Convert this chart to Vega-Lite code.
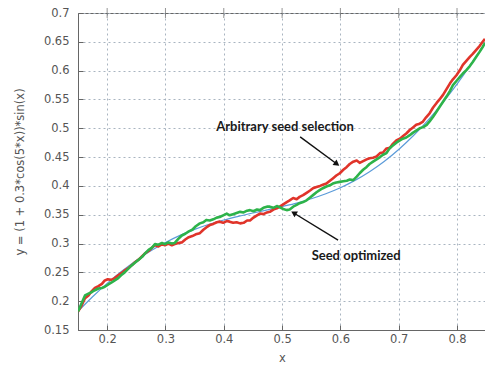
{
  "$schema": "https://vega.github.io/schema/vega-lite/v6.json",
  "width": 408,
  "height": 317,
  "autosize": "none",
  "padding": {"left": 78, "top": 13, "right": 0, "bottom": 42},
  "background": "white",
  "config": {
    "font": "DejaVu Sans",
    "view": {"stroke": "#666666", "strokeWidth": 1}
  },
  "datasets": {
    "curve": [
      {"x": 0.15, "y": 0.1822}, {"x": 0.175, "y": 0.2076}, {"x": 0.2, "y": 0.2309}, {"x": 0.225, "y": 0.2520},
      {"x": 0.25, "y": 0.2708}, {"x": 0.275, "y": 0.2874}, {"x": 0.3, "y": 0.3018}, {"x": 0.325, "y": 0.3141},
      {"x": 0.35, "y": 0.3245}, {"x": 0.375, "y": 0.3334}, {"x": 0.4, "y": 0.3408}, {"x": 0.425, "y": 0.3472},
      {"x": 0.45, "y": 0.3530}, {"x": 0.475, "y": 0.3585}, {"x": 0.5, "y": 0.3642}, {"x": 0.525, "y": 0.3702},
      {"x": 0.55, "y": 0.3778}, {"x": 0.575, "y": 0.3865}, {"x": 0.6, "y": 0.3969}, {"x": 0.625, "y": 0.4096},
      {"x": 0.65, "y": 0.4247}, {"x": 0.675, "y": 0.4424}, {"x": 0.7, "y": 0.4632}, {"x": 0.725, "y": 0.4870},
      {"x": 0.75, "y": 0.5138}, {"x": 0.775, "y": 0.5438}, {"x": 0.8, "y": 0.5767}, {"x": 0.825, "y": 0.6125},
      {"x": 0.85, "y": 0.6508}
    ],
    "noisy": [
      {"s": "arbitrary", "x": 0.150, "y": 0.182}, {"s": "arbitrary", "x": 0.156, "y": 0.192}, {"s": "arbitrary", "x": 0.162, "y": 0.205},
      {"s": "arbitrary", "x": 0.168, "y": 0.210}, {"s": "arbitrary", "x": 0.174, "y": 0.218}, {"s": "arbitrary", "x": 0.179, "y": 0.223},
      {"s": "arbitrary", "x": 0.185, "y": 0.226}, {"s": "arbitrary", "x": 0.191, "y": 0.230}, {"s": "arbitrary", "x": 0.196, "y": 0.236},
      {"s": "arbitrary", "x": 0.201, "y": 0.238}, {"s": "arbitrary", "x": 0.207, "y": 0.237}, {"s": "arbitrary", "x": 0.213, "y": 0.240},
      {"s": "arbitrary", "x": 0.219, "y": 0.245}, {"s": "arbitrary", "x": 0.225, "y": 0.249}, {"s": "arbitrary", "x": 0.231, "y": 0.254},
      {"s": "arbitrary", "x": 0.237, "y": 0.258}, {"s": "arbitrary", "x": 0.243, "y": 0.263}, {"s": "arbitrary", "x": 0.248, "y": 0.268},
      {"s": "arbitrary", "x": 0.254, "y": 0.272}, {"s": "arbitrary", "x": 0.260, "y": 0.278}, {"s": "arbitrary", "x": 0.265, "y": 0.283},
      {"s": "arbitrary", "x": 0.271, "y": 0.287}, {"s": "arbitrary", "x": 0.277, "y": 0.293}, {"s": "arbitrary", "x": 0.282, "y": 0.297},
      {"s": "arbitrary", "x": 0.288, "y": 0.295}, {"s": "arbitrary", "x": 0.294, "y": 0.299}, {"s": "arbitrary", "x": 0.299, "y": 0.297},
      {"s": "arbitrary", "x": 0.305, "y": 0.300}, {"s": "arbitrary", "x": 0.311, "y": 0.297}, {"s": "arbitrary", "x": 0.316, "y": 0.299},
      {"s": "arbitrary", "x": 0.322, "y": 0.301}, {"s": "arbitrary", "x": 0.328, "y": 0.302}, {"s": "arbitrary", "x": 0.334, "y": 0.307},
      {"s": "arbitrary", "x": 0.340, "y": 0.311}, {"s": "arbitrary", "x": 0.346, "y": 0.313}, {"s": "arbitrary", "x": 0.352, "y": 0.316},
      {"s": "arbitrary", "x": 0.359, "y": 0.318}, {"s": "arbitrary", "x": 0.365, "y": 0.324}, {"s": "arbitrary", "x": 0.370, "y": 0.328},
      {"s": "arbitrary", "x": 0.376, "y": 0.332}, {"s": "arbitrary", "x": 0.382, "y": 0.334}, {"s": "arbitrary", "x": 0.388, "y": 0.337},
      {"s": "arbitrary", "x": 0.393, "y": 0.338}, {"s": "arbitrary", "x": 0.399, "y": 0.336}, {"s": "arbitrary", "x": 0.405, "y": 0.339},
      {"s": "arbitrary", "x": 0.410, "y": 0.338}, {"s": "arbitrary", "x": 0.416, "y": 0.336}, {"s": "arbitrary", "x": 0.422, "y": 0.337},
      {"s": "arbitrary", "x": 0.428, "y": 0.335}, {"s": "arbitrary", "x": 0.434, "y": 0.336}, {"s": "arbitrary", "x": 0.440, "y": 0.340},
      {"s": "arbitrary", "x": 0.445, "y": 0.340}, {"s": "arbitrary", "x": 0.451, "y": 0.345}, {"s": "arbitrary", "x": 0.457, "y": 0.349},
      {"s": "arbitrary", "x": 0.462, "y": 0.352}, {"s": "arbitrary", "x": 0.468, "y": 0.351}, {"s": "arbitrary", "x": 0.474, "y": 0.354},
      {"s": "arbitrary", "x": 0.479, "y": 0.355}, {"s": "arbitrary", "x": 0.485, "y": 0.359}, {"s": "arbitrary", "x": 0.491, "y": 0.361},
      {"s": "arbitrary", "x": 0.496, "y": 0.364}, {"s": "arbitrary", "x": 0.502, "y": 0.368}, {"s": "arbitrary", "x": 0.508, "y": 0.372},
      {"s": "arbitrary", "x": 0.513, "y": 0.375}, {"s": "arbitrary", "x": 0.519, "y": 0.379}, {"s": "arbitrary", "x": 0.525, "y": 0.377},
      {"s": "arbitrary", "x": 0.530, "y": 0.381}, {"s": "arbitrary", "x": 0.536, "y": 0.384}, {"s": "arbitrary", "x": 0.542, "y": 0.388},
      {"s": "arbitrary", "x": 0.548, "y": 0.392}, {"s": "arbitrary", "x": 0.553, "y": 0.396}, {"s": "arbitrary", "x": 0.559, "y": 0.398},
      {"s": "arbitrary", "x": 0.565, "y": 0.400}, {"s": "arbitrary", "x": 0.570, "y": 0.402}, {"s": "arbitrary", "x": 0.576, "y": 0.404},
      {"s": "arbitrary", "x": 0.582, "y": 0.409}, {"s": "arbitrary", "x": 0.587, "y": 0.413}, {"s": "arbitrary", "x": 0.593, "y": 0.418},
      {"s": "arbitrary", "x": 0.599, "y": 0.422}, {"s": "arbitrary", "x": 0.605, "y": 0.428}, {"s": "arbitrary", "x": 0.611, "y": 0.433},
      {"s": "arbitrary", "x": 0.616, "y": 0.438}, {"s": "arbitrary", "x": 0.622, "y": 0.442}, {"s": "arbitrary", "x": 0.628, "y": 0.444},
      {"s": "arbitrary", "x": 0.633, "y": 0.440}, {"s": "arbitrary", "x": 0.639, "y": 0.443}, {"s": "arbitrary", "x": 0.645, "y": 0.446},
      {"s": "arbitrary", "x": 0.650, "y": 0.448}, {"s": "arbitrary", "x": 0.656, "y": 0.449}, {"s": "arbitrary", "x": 0.662, "y": 0.451},
      {"s": "arbitrary", "x": 0.668, "y": 0.457}, {"s": "arbitrary", "x": 0.673, "y": 0.458}, {"s": "arbitrary", "x": 0.679, "y": 0.465},
      {"s": "arbitrary", "x": 0.685, "y": 0.466}, {"s": "arbitrary", "x": 0.690, "y": 0.473}, {"s": "arbitrary", "x": 0.696, "y": 0.479},
      {"s": "arbitrary", "x": 0.702, "y": 0.482}, {"s": "arbitrary", "x": 0.707, "y": 0.486}, {"s": "arbitrary", "x": 0.713, "y": 0.491},
      {"s": "arbitrary", "x": 0.719, "y": 0.497}, {"s": "arbitrary", "x": 0.724, "y": 0.501}, {"s": "arbitrary", "x": 0.730, "y": 0.506},
      {"s": "arbitrary", "x": 0.736, "y": 0.508}, {"s": "arbitrary", "x": 0.741, "y": 0.511}, {"s": "arbitrary", "x": 0.747, "y": 0.519},
      {"s": "arbitrary", "x": 0.753, "y": 0.526}, {"s": "arbitrary", "x": 0.759, "y": 0.536}, {"s": "arbitrary", "x": 0.765, "y": 0.544},
      {"s": "arbitrary", "x": 0.770, "y": 0.550}, {"s": "arbitrary", "x": 0.776, "y": 0.558}, {"s": "arbitrary", "x": 0.782, "y": 0.568},
      {"s": "arbitrary", "x": 0.788, "y": 0.578}, {"s": "arbitrary", "x": 0.793, "y": 0.585}, {"s": "arbitrary", "x": 0.799, "y": 0.592},
      {"s": "arbitrary", "x": 0.805, "y": 0.601}, {"s": "arbitrary", "x": 0.810, "y": 0.610}, {"s": "arbitrary", "x": 0.816, "y": 0.617},
      {"s": "arbitrary", "x": 0.822, "y": 0.624}, {"s": "arbitrary", "x": 0.827, "y": 0.629}, {"s": "arbitrary", "x": 0.833, "y": 0.636},
      {"s": "arbitrary", "x": 0.839, "y": 0.643}, {"s": "arbitrary", "x": 0.844, "y": 0.650}, {"s": "arbitrary", "x": 0.848, "y": 0.655},
      {"s": "optimized", "x": 0.150, "y": 0.182}, {"s": "optimized", "x": 0.156, "y": 0.196}, {"s": "optimized", "x": 0.162, "y": 0.210},
      {"s": "optimized", "x": 0.168, "y": 0.213}, {"s": "optimized", "x": 0.174, "y": 0.216}, {"s": "optimized", "x": 0.179, "y": 0.219},
      {"s": "optimized", "x": 0.185, "y": 0.222}, {"s": "optimized", "x": 0.191, "y": 0.223}, {"s": "optimized", "x": 0.196, "y": 0.225},
      {"s": "optimized", "x": 0.202, "y": 0.229}, {"s": "optimized", "x": 0.207, "y": 0.232}, {"s": "optimized", "x": 0.213, "y": 0.236},
      {"s": "optimized", "x": 0.219, "y": 0.240}, {"s": "optimized", "x": 0.225, "y": 0.246}, {"s": "optimized", "x": 0.230, "y": 0.250},
      {"s": "optimized", "x": 0.236, "y": 0.256}, {"s": "optimized", "x": 0.242, "y": 0.262}, {"s": "optimized", "x": 0.248, "y": 0.267},
      {"s": "optimized", "x": 0.254, "y": 0.272}, {"s": "optimized", "x": 0.260, "y": 0.277}, {"s": "optimized", "x": 0.265, "y": 0.283},
      {"s": "optimized", "x": 0.271, "y": 0.289}, {"s": "optimized", "x": 0.277, "y": 0.293}, {"s": "optimized", "x": 0.282, "y": 0.299},
      {"s": "optimized", "x": 0.288, "y": 0.298}, {"s": "optimized", "x": 0.294, "y": 0.301}, {"s": "optimized", "x": 0.299, "y": 0.299},
      {"s": "optimized", "x": 0.305, "y": 0.302}, {"s": "optimized", "x": 0.311, "y": 0.300}, {"s": "optimized", "x": 0.316, "y": 0.301},
      {"s": "optimized", "x": 0.322, "y": 0.308}, {"s": "optimized", "x": 0.328, "y": 0.314}, {"s": "optimized", "x": 0.334, "y": 0.317},
      {"s": "optimized", "x": 0.340, "y": 0.321}, {"s": "optimized", "x": 0.346, "y": 0.324}, {"s": "optimized", "x": 0.352, "y": 0.330},
      {"s": "optimized", "x": 0.359, "y": 0.335}, {"s": "optimized", "x": 0.365, "y": 0.337}, {"s": "optimized", "x": 0.370, "y": 0.341},
      {"s": "optimized", "x": 0.376, "y": 0.340}, {"s": "optimized", "x": 0.382, "y": 0.342}, {"s": "optimized", "x": 0.388, "y": 0.345},
      {"s": "optimized", "x": 0.393, "y": 0.346}, {"s": "optimized", "x": 0.399, "y": 0.349}, {"s": "optimized", "x": 0.405, "y": 0.352},
      {"s": "optimized", "x": 0.410, "y": 0.349}, {"s": "optimized", "x": 0.416, "y": 0.351}, {"s": "optimized", "x": 0.422, "y": 0.353},
      {"s": "optimized", "x": 0.428, "y": 0.355}, {"s": "optimized", "x": 0.434, "y": 0.354}, {"s": "optimized", "x": 0.440, "y": 0.357},
      {"s": "optimized", "x": 0.445, "y": 0.358}, {"s": "optimized", "x": 0.451, "y": 0.356}, {"s": "optimized", "x": 0.457, "y": 0.359},
      {"s": "optimized", "x": 0.462, "y": 0.358}, {"s": "optimized", "x": 0.468, "y": 0.362}, {"s": "optimized", "x": 0.474, "y": 0.364},
      {"s": "optimized", "x": 0.479, "y": 0.364}, {"s": "optimized", "x": 0.485, "y": 0.362}, {"s": "optimized", "x": 0.491, "y": 0.365},
      {"s": "optimized", "x": 0.496, "y": 0.363}, {"s": "optimized", "x": 0.502, "y": 0.360}, {"s": "optimized", "x": 0.508, "y": 0.358},
      {"s": "optimized", "x": 0.513, "y": 0.359}, {"s": "optimized", "x": 0.519, "y": 0.364}, {"s": "optimized", "x": 0.525, "y": 0.367},
      {"s": "optimized", "x": 0.530, "y": 0.370}, {"s": "optimized", "x": 0.536, "y": 0.372}, {"s": "optimized", "x": 0.542, "y": 0.375},
      {"s": "optimized", "x": 0.548, "y": 0.380}, {"s": "optimized", "x": 0.553, "y": 0.384}, {"s": "optimized", "x": 0.559, "y": 0.389},
      {"s": "optimized", "x": 0.565, "y": 0.393}, {"s": "optimized", "x": 0.570, "y": 0.396}, {"s": "optimized", "x": 0.576, "y": 0.399},
      {"s": "optimized", "x": 0.582, "y": 0.401}, {"s": "optimized", "x": 0.587, "y": 0.404}, {"s": "optimized", "x": 0.593, "y": 0.406},
      {"s": "optimized", "x": 0.599, "y": 0.407}, {"s": "optimized", "x": 0.605, "y": 0.408}, {"s": "optimized", "x": 0.611, "y": 0.409},
      {"s": "optimized", "x": 0.616, "y": 0.411}, {"s": "optimized", "x": 0.622, "y": 0.410}, {"s": "optimized", "x": 0.628, "y": 0.416},
      {"s": "optimized", "x": 0.633, "y": 0.422}, {"s": "optimized", "x": 0.639, "y": 0.428}, {"s": "optimized", "x": 0.645, "y": 0.433},
      {"s": "optimized", "x": 0.650, "y": 0.438}, {"s": "optimized", "x": 0.656, "y": 0.442}, {"s": "optimized", "x": 0.662, "y": 0.446},
      {"s": "optimized", "x": 0.668, "y": 0.450}, {"s": "optimized", "x": 0.673, "y": 0.454}, {"s": "optimized", "x": 0.679, "y": 0.457},
      {"s": "optimized", "x": 0.685, "y": 0.466}, {"s": "optimized", "x": 0.690, "y": 0.470}, {"s": "optimized", "x": 0.696, "y": 0.475},
      {"s": "optimized", "x": 0.702, "y": 0.479}, {"s": "optimized", "x": 0.707, "y": 0.482}, {"s": "optimized", "x": 0.713, "y": 0.484},
      {"s": "optimized", "x": 0.719, "y": 0.488}, {"s": "optimized", "x": 0.724, "y": 0.492}, {"s": "optimized", "x": 0.730, "y": 0.496},
      {"s": "optimized", "x": 0.736, "y": 0.500}, {"s": "optimized", "x": 0.742, "y": 0.502}, {"s": "optimized", "x": 0.748, "y": 0.506},
      {"s": "optimized", "x": 0.753, "y": 0.512}, {"s": "optimized", "x": 0.759, "y": 0.520}, {"s": "optimized", "x": 0.765, "y": 0.529},
      {"s": "optimized", "x": 0.770, "y": 0.537}, {"s": "optimized", "x": 0.776, "y": 0.546}, {"s": "optimized", "x": 0.782, "y": 0.555},
      {"s": "optimized", "x": 0.788, "y": 0.565}, {"s": "optimized", "x": 0.793, "y": 0.575}, {"s": "optimized", "x": 0.799, "y": 0.582},
      {"s": "optimized", "x": 0.805, "y": 0.589}, {"s": "optimized", "x": 0.810, "y": 0.595}, {"s": "optimized", "x": 0.816, "y": 0.601},
      {"s": "optimized", "x": 0.822, "y": 0.608}, {"s": "optimized", "x": 0.827, "y": 0.615}, {"s": "optimized", "x": 0.833, "y": 0.624},
      {"s": "optimized", "x": 0.839, "y": 0.633}, {"s": "optimized", "x": 0.844, "y": 0.641}, {"s": "optimized", "x": 0.848, "y": 0.648}
    ],
    "labels": [
      {"id": "a", "x": 0.505, "y": 0.503, "text": "Arbitrary seed selection"},
      {"id": "b", "x": 0.627, "y": 0.279, "text": "Seed optimized"}
    ],
    "arrows": [
      {"id": "a", "x": 0.531, "y": 0.485, "x2": 0.594, "y2": 0.438},
      {"id": "b", "x": 0.596, "y": 0.306, "x2": 0.520, "y2": 0.353}
    ],
    "topticks": [
      {"x": 0.2}, {"x": 0.3}, {"x": 0.4}, {"x": 0.5}, {"x": 0.6}, {"x": 0.7}, {"x": 0.8}
    ]
  },
  "layer": [
    {
      "data": {"name": "curve"},
      "mark": {"type": "line", "color": "#5b9bd9", "strokeWidth": 1.2, "interpolate": "monotone", "clip": true},
      "encoding": {
        "x": {"field": "x", "type": "quantitative",
          "scale": {"domain": [0.15, 0.8497], "nice": false, "zero": false},
          "axis": {"title": "x", "values": [0.2, 0.3, 0.4, 0.5, 0.6, 0.7, 0.8], "tickCount": 20, "labelExpr": "format(datum.value, '.2~f')", "grid": true, "tickSize": -5,
            "labelPadding": 8, "titlePadding": 8, "labelOverlap": false, "labelFont": "DejaVu Sans", "labelFontSize": 11.5, "labelColor": "#555555",
            "titleFont": "DejaVu Sans", "titleFontSize": 11.5, "titleFontWeight": "normal", "titleColor": "#555555",
            "domainColor": "#666666", "tickColor": "#666666", "gridColor": "#a9b4c0", "gridDash": [2, 3], "gridWidth": 1}},
        "y": {"field": "y", "type": "quantitative",
          "scale": {"domain": [0.15, 0.7], "nice": false, "zero": false},
          "axis": {"title": "y = (1 + 0.3*cos(5*x))*sin(x)", "values": [0.15, 0.2, 0.25, 0.3, 0.35, 0.4, 0.45, 0.5, 0.55, 0.6, 0.65, 0.7], "tickCount": 20, "labelExpr": "format(datum.value, '.2~f')", "grid": true, "tickSize": -5,
            "labelPadding": 14, "titlePadding": 18, "labelOverlap": false, "labelFont": "DejaVu Sans", "labelFontSize": 11.5, "labelColor": "#555555",
            "titleFont": "DejaVu Sans", "titleFontSize": 11.5, "titleFontWeight": "normal", "titleColor": "#555555",
            "domainColor": "#666666", "tickColor": "#666666", "gridColor": "#a9b4c0", "gridDash": [2, 3], "gridWidth": 1}}
      }
    },
    {
      "data": {"name": "topticks"},
      "mark": {"type": "tick", "orient": "vertical", "color": "#666666", "size": 10, "thickness": 1},
      "encoding": {
        "x": {"field": "x", "type": "quantitative"},
        "y": {"datum": 0.7, "type": "quantitative"}
      }
    },
    {
      "data": {"name": "noisy"},
      "mark": {"type": "line", "strokeWidth": 2.6, "clip": true, "strokeJoin": "round"},
      "encoding": {
        "x": {"field": "x", "type": "quantitative"},
        "y": {"field": "y", "type": "quantitative"},
        "color": {"field": "s", "type": "nominal", "scale": {"domain": ["arbitrary", "optimized"], "range": ["#e0342a", "#2db34a"]}, "legend": null}
      }
    },
    {
      "data": {"name": "arrows"},
      "mark": {"type": "rule", "color": "#111111", "strokeWidth": 1.4},
      "encoding": {
        "x": {"field": "x", "type": "quantitative"},
        "y": {"field": "y", "type": "quantitative"},
        "x2": {"field": "x2"},
        "y2": {"field": "y2"}
      }
    },
    {
      "data": {"name": "arrows"},
      "transform": [{"filter": "datum.id == 'a'"}],
      "mark": {"type": "point", "shape": "triangle-up", "filled": true, "color": "#111111", "size": 45, "angle": 126, "opacity": 1},
      "encoding": {
        "x": {"field": "x2", "type": "quantitative"},
        "y": {"field": "y2", "type": "quantitative"}
      }
    },
    {
      "data": {"name": "arrows"},
      "transform": [{"filter": "datum.id == 'b'"}],
      "mark": {"type": "point", "shape": "triangle-up", "filled": true, "color": "#111111", "size": 45, "angle": 301, "opacity": 1},
      "encoding": {
        "x": {"field": "x2", "type": "quantitative"},
        "y": {"field": "y2", "type": "quantitative"}
      }
    },
    {
      "data": {"name": "labels"},
      "mark": {"type": "text", "font": "Lato", "fontSize": 13, "fontWeight": "bold", "color": "#1a1a1a", "align": "center", "baseline": "middle"},
      "encoding": {
        "x": {"field": "x", "type": "quantitative"},
        "y": {"field": "y", "type": "quantitative"},
        "text": {"field": "text"}
      }
    }
  ]
}
